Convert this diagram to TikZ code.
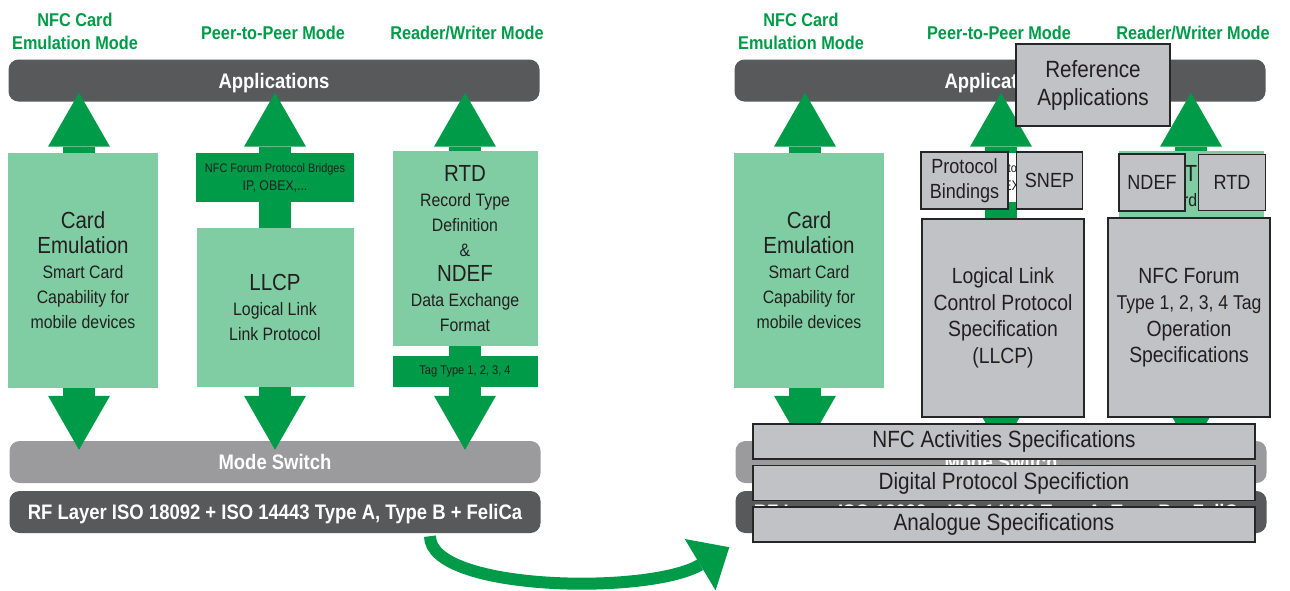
\documentclass[tikz,border=0pt]{standalone}
\usepackage{fontspec}
\setmainfont[FakeStretch=0.88]{Liberation Sans}
\usetikzlibrary{positioning, calc, arrows.meta}

\definecolor{nfcgreen}{RGB}{0,155,72}
\definecolor{lightgreen}{RGB}{128,205,164}
\definecolor{darkbar}{RGB}{88,89,91}
\definecolor{midbar}{RGB}{155,155,157}
\definecolor{specgray}{RGB}{193,194,198}
\definecolor{inktext}{RGB}{35,31,32}

\newcommand{\fs}[2]{\fontsize{#1}{#2}\selectfont}
\newcommand{\boxtitle}{\fs{23.3}{29}}

\tikzset{
    bar/.style={rounded corners=10pt, minimum width=531pt, minimum height=42pt,
        inner sep=0pt, text depth=0pt, text=white, font=\fs{21}{25}\bfseries},
    modelabel/.style={text=nfcgreen, font=\fs{18.5}{23}\bfseries, align=center},
    greenbox/.style={fill=lightgreen, text=inktext, align=center, inner sep=0pt,
        font=\fs{18}{25}},
    bridgebox/.style={fill=nfcgreen, text=inktext, align=center, inner sep=0pt},
    bigarrow/.style={draw=nfcgreen, line width=32pt,
        -{Triangle[width=62pt, length=54pt, line width=0pt]}},
    shaft/.style={draw=nfcgreen, line width=32pt},
    curvearrow/.style={draw=nfcgreen, line width=12pt,
        -{Triangle[width=60pt, length=34pt, line width=0pt]}},
    spec/.style={draw=black!85, line width=1.5pt, fill=specgray, text=inktext,
        align=center, inner sep=0pt},
}

% one complete NFC stack, drawn twice
\newcommand{\nfcpanel}{
    % Mode headings
    \node[modelabel] (cemode) at (75,31) {NFC Card\\Emulation Mode};
    \node[modelabel] (p2pmode) at (273,33) {Peer-to-Peer Mode};
    \node[modelabel] (rwmode) at (467,33) {Reader/Writer Mode};

    % Bars
    \node[bar, fill=darkbar] (apps) at (274,80.5) {Applications};
    \node[bar, fill=midbar] (mode) at (275,462) {Mode Switch};
    \node[bar, fill=darkbar] (rf) at (275,512)
        {RF Layer ISO 18092 + ISO 14443 Type A, Type B + FeliCa};

    % Mode columns
    \node[greenbox, minimum width=150pt, minimum height=235pt] (card) at (83,270.5)
        {\boxtitle Card\\\boxtitle Emulation\\Smart Card\\Capability for\\mobile devices};
    \node[bridgebox, minimum width=158pt, minimum height=49pt, font=\fs{14}{18}] (bridge)
        at (275,177.5) {\fs{12.4}{16}NFC Forum Protocol Bridges\\IP, OBEX,...};
    \node[greenbox, minimum width=157pt, minimum height=159pt] (llcp) at (275,307.5)
        {\boxtitle LLCP\\Logical Link\\Link Protocol};
    \node[greenbox, minimum width=145pt, minimum height=195pt] (rtd) at (465,248.5)
        {\boxtitle RTD\\Record Type\\Definition\\\&\\\boxtitle NDEF\\Data Exchange\\Format};
    \node[bridgebox, minimum width=145pt, minimum height=31pt, font=\fs{12.6}{15}] (tag)
        at (465,371.5) {Tag Type 1, 2, 3, 4};

    % Arrows
    \draw[bigarrow] ([xshift=-4pt]card.north) -- ($(card.north |- apps.south)+(-4,-9)$);
    \draw[bigarrow] ([xshift=-4pt]card.south) -- ($(card.south |- mode.north)+(-4,9)$);
    \draw[bigarrow] (bridge.north) -- ($(bridge.north |- apps.south)+(0,-9)$);
    \draw[shaft] (llcp.north) -- (bridge.south);
    \draw[bigarrow] (llcp.south) -- ($(llcp.south |- mode.north)+(0,9)$);
    \draw[bigarrow] (rtd.north) -- ($(rtd.north |- apps.south)+(0,-9)$);
    \draw[shaft] (rtd.south) -- (tag.north);
    \draw[bigarrow] (tag.south) -- ($(tag.south |- mode.north)+(0,9)$);
}

\begin{document}
\begin{tikzpicture}[x=1pt, y=-1pt]

    \useasboundingbox (0,0) rectangle (1290,590);

    % Left: NFC Forum architecture
    \nfcpanel

    % Right: same stack with the specifications on top
    \begin{scope}[xshift=726pt, name prefix=r-, bridgebox/.append style={fill=white}]
        \nfcpanel
    \end{scope}

    \node[spec, minimum width=154pt, minimum height=82pt, font=\fs{23.5}{28}] (refapp)
        at (1093,85) {Reference\\Applications};
    \node[spec, minimum width=87pt, minimum height=57pt, font=\fs{20.5}{24.5}] (bind)
        at (964.5,180.5) {Protocol\\Bindings};
    \node[spec, minimum width=66pt, minimum height=57pt, font=\fs{20.5}{24.5}] (snep)
        [right=7pt of bind] {SNEP};
    \node[spec, minimum width=66pt, minimum height=57pt, font=\fs{20.5}{24.5}] (ndef)
        at (1152,182.5) {NDEF};
    \node[spec, minimum width=67pt, minimum height=56pt, font=\fs{20.5}{24.5}] (rtdspec)
        [right=12pt of ndef] {RTD};
    \node[spec, minimum width=162pt, minimum height=198pt, font=\fs{22}{26.5}] (llcpspec)
        at (1003,318) {Logical Link\\Control Protocol\\Specification\\(LLCP)};
    \node[spec, minimum width=162pt, minimum height=199pt, font=\fs{22}{26.5}] (tagspec)
        at (1189,317.5) {NFC Forum\\\fs{20}{26.5}Type 1, 2, 3, 4 Tag\\Operation\\Specifications};
    \node[spec, minimum width=502pt, minimum height=35pt, font=\fs{23.5}{28}] (act)
        at (1004,441.5) {NFC Activities Specifications};
    \node[spec, minimum width=502pt, minimum height=35pt, font=\fs{23.5}{28}] (dig)
        [below=5pt of act] {Digital Protocol Specifiction};
    \node[spec, minimum width=502pt, minimum height=35pt, font=\fs{23.5}{28}] (ana)
        [below=5pt of dig] {Analogue Specifications};

    % From the left stack to the right one
    \coordinate (curveend) at ($(r-rf.south west)+(-6,14)$);
    \draw[curvearrow] ($(rf.south)+(155,3)$) .. controls +(0,55) and +(-80,48) .. (curveend);

\end{tikzpicture}
\end{document}
